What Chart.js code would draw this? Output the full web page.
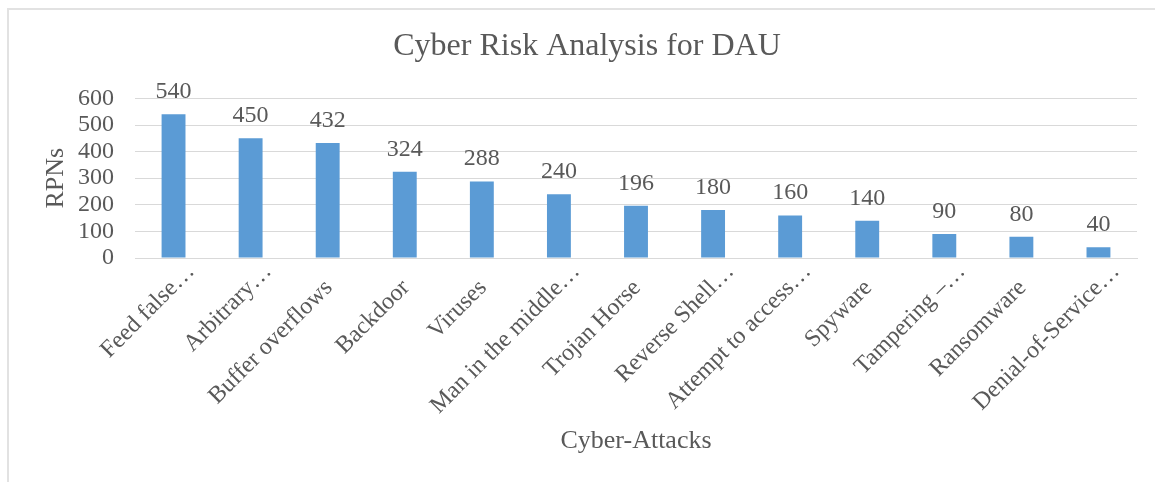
<!DOCTYPE html>
<html>
<head>
<meta charset="utf-8">
<script src="https://cdn.jsdelivr.net/npm/chart.js@4/dist/chart.umd.min.js"></script>
<style>
  body { margin: 0; background: #fff; overflow: hidden; }
  #frame { position: absolute; left: 7px; top: 8px; width: 1160px; height: 474px;
           border-top: 2px solid #e2e2e2; border-left: 2px solid #e2e2e2; box-sizing: border-box; }
  #chart { position: absolute; left: 7px; top: 8px; }
</style>
</head>
<body>
<div id="frame"></div>
<canvas id="chart" width="1160" height="474"></canvas>
<script>
// Chart data
const attacks = ['Feed false…', 'Arbitrary…', 'Buffer overflows', 'Backdoor', 'Viruses',
    'Man in the middle…', 'Trojan Horse', 'Reverse Shell…', 'Attempt to access…',
    'Spyware', 'Tampering –…', 'Ransomware', 'Denial-of-Service…'];
const rpns = [540, 450, 432, 324, 288, 240, 196, 180, 160, 140, 90, 80, 40];
const yTicks = [0, 100, 200, 300, 400, 500, 600];

const serif = "'Times New Roman', 'Liberation Serif', serif",
    textGray = '#595959';

// Draw the value over each bar
const valueLabels = {
    id: 'valueLabels',
    afterDatasetsDraw(chart) {
        const ctx = chart.ctx;
        const meta = chart.getDatasetMeta(0);
        ctx.save();
        ctx.font = '24px ' + serif;
        ctx.fillStyle = textGray;
        ctx.textAlign = 'center';
        ctx.textBaseline = 'alphabetic';
        meta.data.forEach(function(bar, i){
            ctx.fillText(String(rpns[i]), bar.x, bar.y - 16);
        });
        ctx.restore();
    }
};

// Slanted category labels, cut labels (with …) sit a bit further up like Excel does
const categoryLabels = {
    id: 'categoryLabels',
    afterDraw(chart) {
        const ctx = chart.ctx;
        const xScale = chart.scales.x;
        ctx.save();
        ctx.font = '24px ' + serif;
        ctx.fillStyle = textGray;
        ctx.textAlign = 'right';
        ctx.textBaseline = 'middle';
        attacks.forEach(function(label, i){
            let shift = label.endsWith('…') ? 23 : 0;
            ctx.save();
            ctx.translate(xScale.getPixelForTick(i) - 9, xScale.top + 16);
            ctx.rotate(-Math.PI / 4);
            ctx.fillText(label, shift, 14.4);
            ctx.restore();
        });
        ctx.restore();
    }
};

new Chart(document.getElementById('chart'), {
    type: 'bar',
    data: {
        labels: attacks,
        datasets: [{
            data: rpns,
            backgroundColor: '#5B9BD5',
            barPercentage: 0.31,
            categoryPercentage: 1
        }]
    },
    options: {
        responsive: false,
        animation: false,
        layout: { padding: { left: 30, right: 30, top: 0, bottom: 0 } },
        plugins: {
            legend: { display: false },
            tooltip: { enabled: false },
            title: {
                display: true,
                text: 'Cyber Risk Analysis for DAU',
                color: textGray,
                font: { family: serif, size: 32, weight: 'normal' },
                padding: { top: 19, bottom: 33 }
            }
        },
        scales: {
            x: {
                grid: { display: false, drawTicks: false },
                border: { color: '#d9d9d9', width: 1 },
                ticks: { display: false },
                title: {
                    display: true,
                    text: 'Cyber-Attacks',
                    color: textGray,
                    font: { family: serif, size: 26 },
                    padding: { top: 25, bottom: 25 }
                },
                afterFit: function(scale){ scale.height = 224; }
            },
            y: {
                min: 0,
                max: 600,
                grid: { color: '#d9d9d9', drawTicks: false },
                border: { display: false },
                afterBuildTicks: function(scale){
                    scale.ticks = yTicks.map(v => ({ value: v }));
                },
                ticks: {
                    color: textGray,
                    font: { family: serif, size: 24 },
                    autoSkip: false,
                    padding: 21
                },
                title: {
                    display: true,
                    text: 'RPNs',
                    color: textGray,
                    font: { family: serif, size: 26 },
                    padding: { top: 4, bottom: 4 }
                },
                afterFit: function(scale){ scale.width = 98; }
            }
        }
    },
    plugins: [valueLabels, categoryLabels]
});
</script>
</body>
</html>
